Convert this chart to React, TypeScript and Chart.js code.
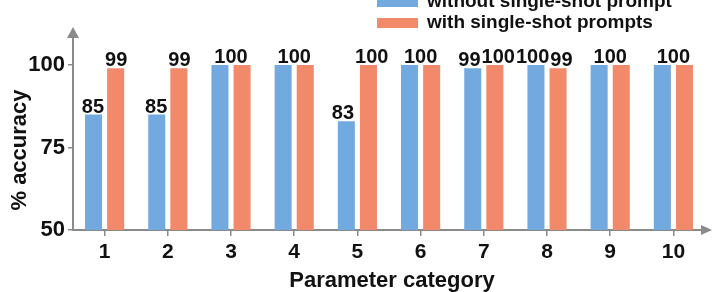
import React, { useEffect, useRef } from 'react';
import { Chart, registerables } from 'chart.js';

Chart.register(...registerables);

const categories = ['1', '2', '3', '4', '5', '6', '7', '8', '9', '10'];
const withoutPrompt = [85, 85, 100, 100, 83, 100, 99, 100, 100, 100];
const withPrompts = [99, 99, 100, 100, 100, 100, 100, 99, 100, 100];
const yTicks = [50, 75, 100];
const seriesNames = ['without single-shot prompt', 'with single-shot prompts'];
const seriesColors = ['#72a9df', '#f2896a'];
const xTitle = 'Parameter category';
const yTitle = '% accuracy';

const FONT = '"Liberation Sans", Arial, Helvetica, sans-serif';
const AXIS = '#8a8a8a';
const TEXT = '#111111';

const decorPlugin = {
  id: 'decor',
  afterDatasetsDraw(chart: any) {
    const ctx = chart.ctx;
    const m0 = chart.getDatasetMeta(0);
    const m1 = chart.getDatasetMeta(1);
    const d0 = chart.data.datasets[0].data as number[];
    const d1 = chart.data.datasets[1].data as number[];
    ctx.save();
    ctx.fillStyle = TEXT;
    ctx.font = `bold 20px ${FONT}`;
    ctx.textAlign = 'center';
    ctx.textBaseline = 'alphabetic';
    for (let i = 0; i < d0.length; i++) {
      const b0 = m0.data[i];
      const b1 = m1.data[i];
      if (d0[i] === d1[i]) {
        ctx.fillText(String(d0[i]), (b0.x + b1.x) / 2, Math.min(b0.y, b1.y) - 2);
      } else {
        const t0 = String(d0[i]);
        const t1 = String(d1[i]);
        const w0 = ctx.measureText(t0).width;
        const w1 = ctx.measureText(t1).width;
        let x0 = b0.x;
        let x1 = b1.x;
        const need = (w0 + w1) / 2 + 1 - (x1 - x0);
        if (need > 0) {
          x0 -= need / 2;
          x1 += need / 2;
        }
        ctx.fillText(t0, x0, b0.y - 2);
        ctx.fillText(t1, x1, b1.y - 2);
      }
    }
    ctx.restore();
  },
  afterDraw(chart: any) {
    const ctx = chart.ctx;
    const a = chart.chartArea;
    ctx.save();
    // arrows
    ctx.fillStyle = AXIS;
    ctx.beginPath();
    ctx.moveTo(a.left, a.top - 10);
    ctx.lineTo(a.left - 6, a.top + 1);
    ctx.lineTo(a.left + 6, a.top + 1);
    ctx.closePath();
    ctx.fill();
    ctx.beginPath();
    ctx.moveTo(712, a.bottom);
    ctx.lineTo(701, a.bottom - 5);
    ctx.lineTo(701, a.bottom + 5);
    ctx.closePath();
    ctx.fill();
    // axis titles
    ctx.fillStyle = TEXT;
    ctx.font = `bold 22px ${FONT}`;
    ctx.textAlign = 'center';
    ctx.textBaseline = 'alphabetic';
    ctx.fillText(xTitle, 392, 287);
    ctx.save();
    ctx.translate(26, 150);
    ctx.rotate(-Math.PI / 2);
    ctx.fillText(yTitle, 0, 0);
    ctx.restore();
    // legend
    const rows = [7, 28];
    ctx.font = `bold 19px ${FONT}`;
    ctx.textAlign = 'left';
    for (let i = 0; i < seriesNames.length; i++) {
      ctx.fillStyle = seriesColors[i];
      ctx.fillRect(377, rows[i] - 10, 41, 10);
      ctx.fillStyle = TEXT;
      ctx.fillText(seriesNames[i], 427, rows[i]);
    }
    ctx.restore();
  },
};

export default function App() {
  const ref = useRef<HTMLCanvasElement>(null);
  useEffect(() => {
    if (!ref.current) return;
    const chart = new Chart(ref.current, {
      type: 'bar',
      data: {
        labels: categories,
        datasets: [
          {
            label: seriesNames[0],
            data: withoutPrompt,
            backgroundColor: seriesColors[0],
            categoryPercentage: 0.7,
            barPercentage: 0.77,
          },
          {
            label: seriesNames[1],
            data: withPrompts,
            backgroundColor: seriesColors[1],
            categoryPercentage: 0.7,
            barPercentage: 0.77,
          },
        ],
      },
      options: {
        animation: false,
        responsive: false,
        maintainAspectRatio: false,
        devicePixelRatio: 1,
        layout: { padding: { top: 37, right: 7, left: 0, bottom: 0 } },
        plugins: {
          legend: { display: false },
          tooltip: { enabled: false },
          title: { display: false },
        },
        scales: {
          x: {
            type: 'category',
            offset: true,
            grid: {
              offset: false,
              drawOnChartArea: false,
              drawTicks: true,
              tickLength: 6,
              color: AXIS,
              lineWidth: 1.5,
            },
            border: { display: true, color: AXIS, width: 2 },
            ticks: {
              color: TEXT,
              font: { family: FONT, size: 21, weight: 'bold' },
              padding: 4,
              maxRotation: 0,
              autoSkip: false,
            },
            afterFit: (s: any) => {
              s.height = 62;
            },
          },
          y: {
            type: 'linear',
            min: 50,
            max: 108.5,
            afterBuildTicks: (s: any) => {
              s.ticks = yTicks.map((v) => ({ value: v }));
            },
            grid: {
              drawOnChartArea: false,
              drawTicks: true,
              tickLength: 5,
              color: AXIS,
              lineWidth: 1.5,
            },
            border: { display: true, color: AXIS, width: 2 },
            ticks: {
              color: TEXT,
              font: { family: FONT, size: 22, weight: 'bold' },
              padding: 3,
            },
            afterFit: (s: any) => {
              s.width = 73;
            },
          },
        },
      },
      plugins: [decorPlugin],
    });
    return () => chart.destroy();
  }, []);
  return (
    <div style={{ position: 'absolute', left: 0, top: 0, width: 712, height: 292, background: '#fff' }}>
      <canvas ref={ref} width={712} height={292} style={{ display: 'block', width: 712, height: 292 }} />
    </div>
  );
}
